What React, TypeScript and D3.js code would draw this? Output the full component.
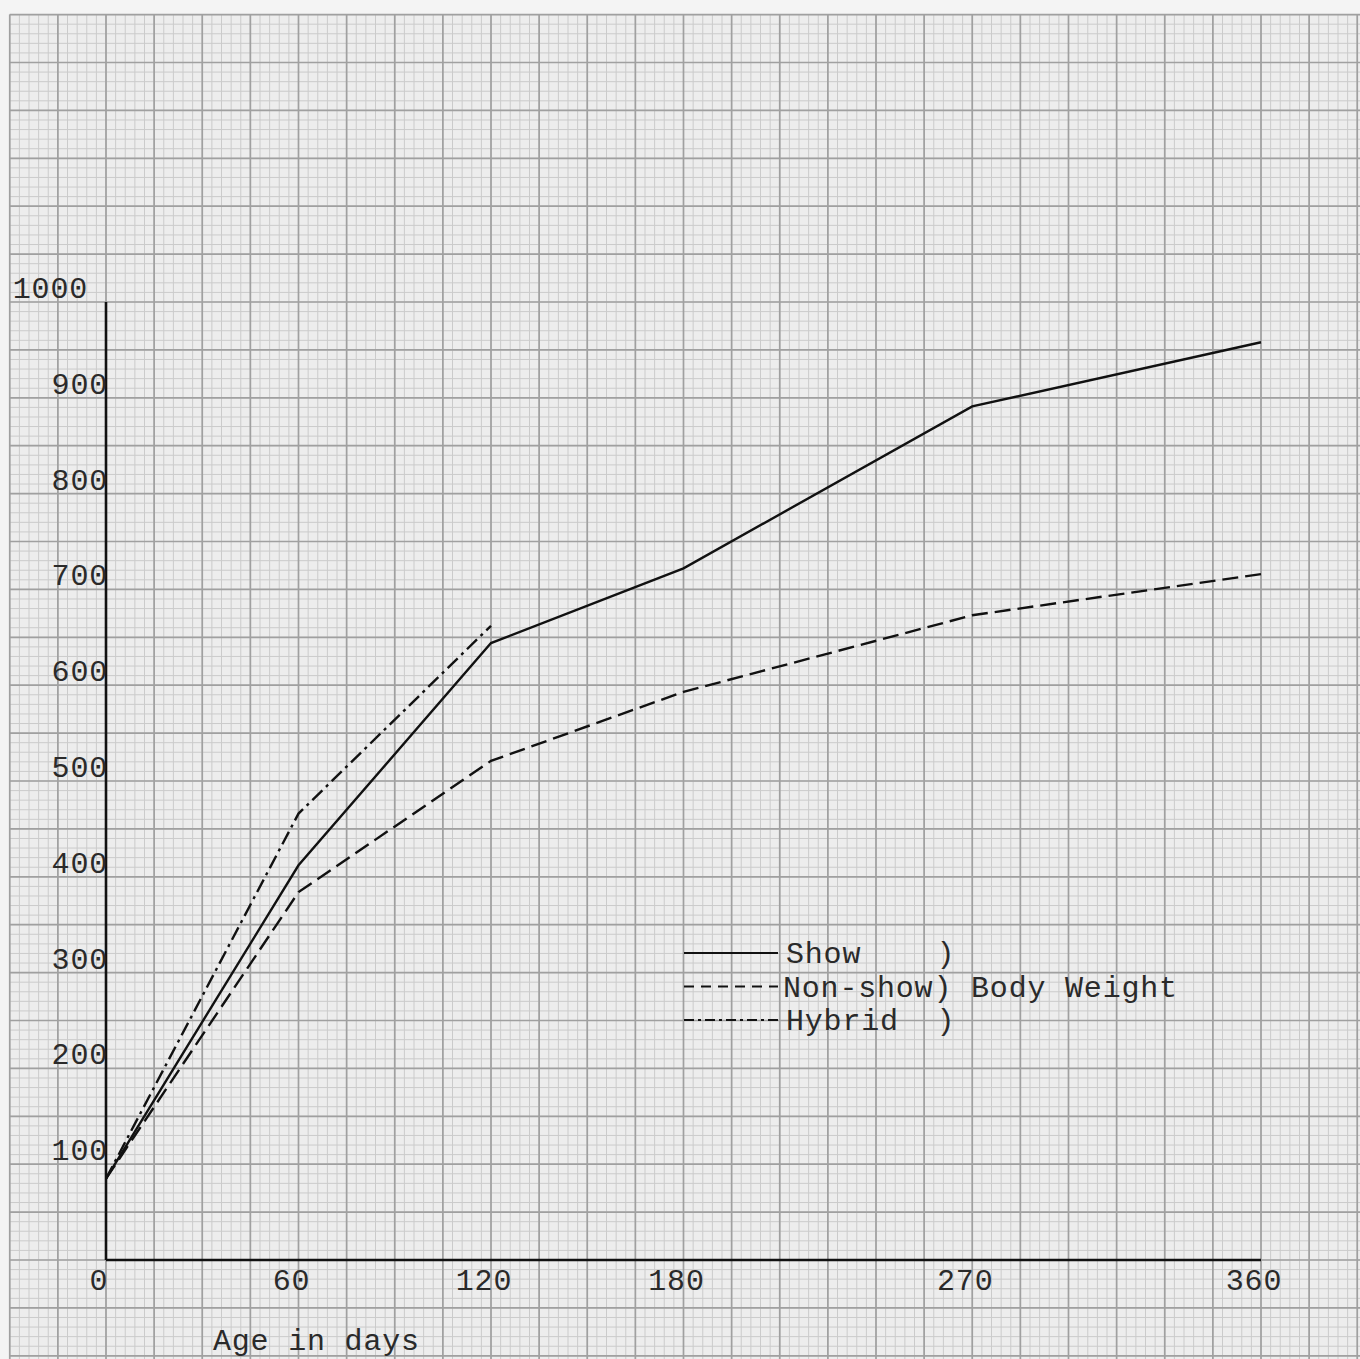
import React from 'react';
import * as d3 from 'd3';

// values
const days = [0, 60, 120, 180, 270, 360];
const showWeight = [85, 412, 644, 722, 891, 958];
const nonShowWeight = [85, 384, 521, 593, 673, 716];
const hybridDays = [0, 60, 120];
const hybridWeight = [85, 466, 662];

const yTicks = [100, 200, 300, 400, 500, 600, 700, 800, 900, 1000];
const xTicks = [0, 60, 120, 180, 270, 360];

const legendNames = ['Show    )', 'Non-show) Body Weight', 'Hybrid  )'];

const W = 1360;
const H = 1359;
const FONT = '"Liberation Mono", "DejaVu Sans Mono", monospace';

const App = () => {
    const x = d3.scaleLinear().domain([0, 360]).range([106, 1261]);
    const y = d3.scaleLinear().domain([0, 1000]).range([1260, 302]);

    // graph paper: minor every 3 days / 10 g, major every 15 days / 50 g
    const minorX = d3.range(-30, 391, 3);
    const minorY = d3.range(-100, 1301, 10);
    const majorX = d3.range(-30, 391, 15);
    const majorY = d3.range(-100, 1301, 50);

    const line = d3.line<[number, number]>()
        .x(d => x(d[0]))
        .y(d => y(d[1]));

    const series = [
        { name: 'Show', pts: days.map((d, i) => [d, showWeight[i]] as [number, number]), dash: null },
        { name: 'Non-show', pts: days.map((d, i) => [d, nonShowWeight[i]] as [number, number]), dash: '16 7' },
        { name: 'Hybrid', pts: hybridDays.map((d, i) => [d, hybridWeight[i]] as [number, number]), dash: '14 5 3 5' },
    ];
    const legendDash = [null, '10 7', '10 4 3 4'];

    const paperLeft = x(-30);
    const paperTop = y(1300);

    return (
        <svg width={W} height={H} style={{ position: 'absolute', left: 0, top: 0, display: 'block' }}>
            <rect x={0} y={0} width={W} height={H} fill="#f4f4f4" />
            <rect x={paperLeft} y={paperTop} width={W - paperLeft} height={H - paperTop} fill="#ededed" />

            <g stroke="#cbcbcb" strokeWidth={1}>
                {minorX.map(v => (
                    <line key={'mx' + v} x1={x(v)} x2={x(v)} y1={paperTop} y2={H} />
                ))}
                {minorY.map(v => (
                    <line key={'my' + v} x1={paperLeft} x2={W} y1={y(v)} y2={y(v)} />
                ))}
            </g>
            <g stroke="#a0a0a0" strokeWidth={1.7}>
                {majorX.map(v => (
                    <line key={'Mx' + v} x1={x(v)} x2={x(v)} y1={paperTop} y2={H} />
                ))}
                {majorY.map(v => (
                    <line key={'My' + v} x1={paperLeft} x2={W} y1={y(v)} y2={y(v)} />
                ))}
            </g>

            {/* axes */}
            <g stroke="#111" strokeWidth={2.6}>
                <line x1={x(0)} x2={x(0)} y1={y(0)} y2={y(1000)} />
                <line x1={x(0)} x2={x(360)} y1={y(0)} y2={y(0)} />
            </g>

            {/* series */}
            {series.map(s => (
                <path
                    key={s.name}
                    d={line(s.pts) || ''}
                    fill="none"
                    stroke="#111"
                    strokeWidth={2.4}
                    strokeDasharray={s.dash || undefined}
                />
            ))}

            <g fontFamily={FONT} fontSize={30} letterSpacing={0.8} fill="#2a2a2a">
                {yTicks.map(v => (
                    <text key={'yt' + v} x={v === 1000 ? 88 : 108} y={y(v) - 4} textAnchor="end">
                        {String(v)}
                    </text>
                ))}
                {xTicks.map(v => (
                    <text key={'xt' + v} x={x(v) - 7} y={1290} textAnchor="middle">
                        {String(v)}
                    </text>
                ))}
                <text x={213} y={1350}>Age in days</text>

                {legendNames.map((n, i) => (
                    <g key={n}>
                        <line
                            x1={684} x2={778}
                            y1={953 + i * 33.5} y2={953 + i * 33.5}
                            stroke="#111" strokeWidth={2}
                            strokeDasharray={legendDash[i] || undefined}
                        />
                        <text x={i === 1 ? 783 : 786} y={963 + i * 33.5} style={{ whiteSpace: 'pre' }}>{n}</text>
                    </g>
                ))}
            </g>
        </svg>
    );
};

export default App;
